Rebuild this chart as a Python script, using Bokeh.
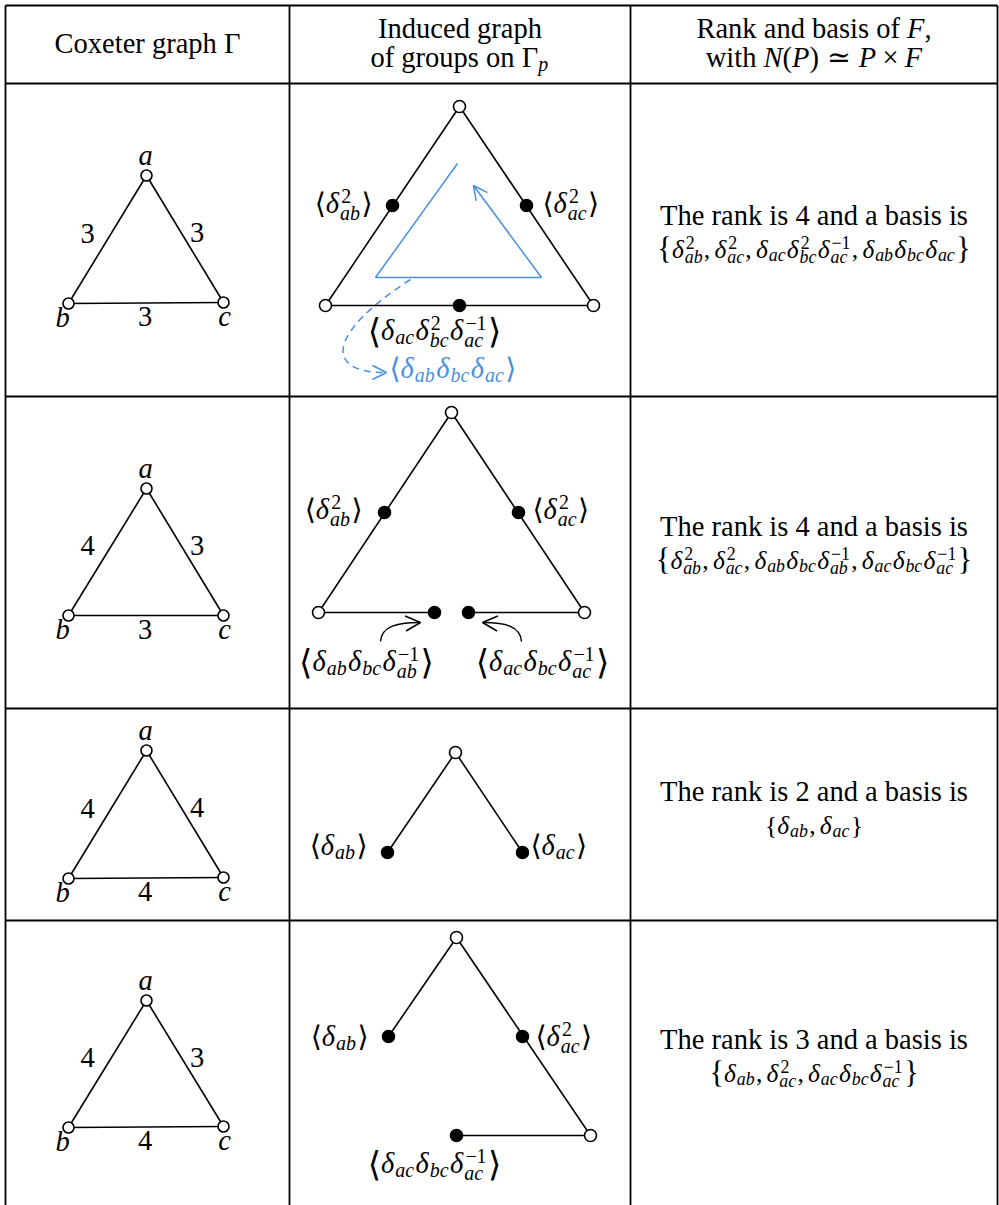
from bokeh.plotting import figure
from bokeh.models import ColumnDataSource, Range1d, Arrow, OpenHead
from bokeh.embed import file_html
from bokeh.resources import INLINE

# ---------------------------------------------------------------- data
# table grid (reference pixel coordinates)
col_x = [5, 289, 630, 997]
row_y = [5, 83, 396, 708, 920]
table_bottom = 1215

header_1 = "Coxeter graph Γ"
header_2 = ["Induced graph", "of groups on $Γ_p$"]
header_3 = ["Rank and basis of $F$,", "with $N(P) ≃ P × F$"]
header_1_y = 50
header_lines_y = [35, 64]

ranks = [4, 4, 2, 3]
bases = [
    r"$!\{δ_{ab}^2, δ_{ac}^2, δ_{ac}δ_{bc}^2δ_{ac}^{−1}, δ_{ab}δ_{bc}δ_{ac}!\}$",
    r"$!\{δ_{ab}^2, δ_{ac}^2, δ_{ab}δ_{bc}δ_{ab}^{−1}, δ_{ac}δ_{bc}δ_{ac}^{−1}!\}$",
    r"$\{δ_{ab}, δ_{ac}\}$",
    r"$!\{δ_{ab}, δ_{ac}^2, δ_{ac}δ_{bc}δ_{ac}^{−1}!\}$",
]
rank_line_y = [222, 533, 798, 1046]
basis_line_y = [255, 566, 831, 1079]

# Coxeter graphs Γ (vertices a, b, c) and edge labels
cox_a_x = [146, 146, 146, 146]
cox_a_y = [175, 488, 750, 1000]
cox_b_x = [68, 68, 68, 68]
cox_b_y = [303, 615, 878, 1127]
cox_c_x = [223, 223, 223, 223]
cox_c_y = [302, 615, 877, 1126]
m_ab = ["3", "4", "4", "4"]
m_ac = ["3", "3", "4", "3"]
m_bc = ["3", "3", "4", "4"]

# induced graphs of groups
g1_x = [459, 325, 593, 392, 526, 459]
g1_y = [106, 305, 305, 205, 205, 305]
g1_filled = [0, 0, 0, 1, 1, 1]
g1_edges = [(0, 1), (0, 2), (1, 2)]

g2_x = [451, 318, 584, 384, 518, 434, 468]
g2_y = [412, 612, 612, 512, 512, 612, 612]
g2_filled = [0, 0, 0, 1, 1, 1, 1]
g2_edges = [(0, 1), (0, 2), (1, 5), (6, 2)]

g3_x = [455, 387, 522]
g3_y = [752, 852, 852]
g3_filled = [0, 1, 1]
g3_edges = [(0, 1), (0, 2)]

g4_x = [456, 388, 522, 590, 456]
g4_y = [937, 1036, 1036, 1135, 1135]
g4_filled = [0, 1, 1, 0, 1]
g4_edges = [(0, 1), (0, 3), (3, 4)]

graph_labels = [
    # markup, x, baseline, align, colour
    (r"$⟨δ_{ab}^2⟩$", 372, 210, "right", "black"),
    (r"$⟨δ_{ac}^2⟩$", 542, 210, "left", "black"),
    (r"$!⟨δ_{ac}δ_{bc}^2δ_{ac}^{−1}!⟩$", 434, 337, "center", "black"),
    (r"$⟨δ_{ab}δ_{bc}δ_{ac}⟩$", 389, 375, "left", "blue"),
    (r"$⟨δ_{ab}^2⟩$", 362, 516, "right", "black"),
    (r"$⟨δ_{ac}^2⟩$", 532, 516, "left", "black"),
    (r"$!⟨δ_{ab}δ_{bc}δ_{ab}^{−1}!⟩$", 366, 668, "center", "black"),
    (r"$!⟨δ_{ac}δ_{bc}δ_{ac}^{−1}!⟩$", 542, 668, "center", "black"),
    (r"$⟨δ_{ab}⟩$", 367, 852, "right", "black"),
    (r"$⟨δ_{ac}⟩$", 530, 852, "left", "black"),
    (r"$⟨δ_{ab}⟩$", 368, 1043, "right", "black"),
    (r"$⟨δ_{ac}^2⟩$", 535, 1043, "left", "black"),
    (r"$!⟨δ_{ac}δ_{bc}δ_{ac}^{−1}!⟩$", 434, 1170, "center", "black"),
]

# blue cycle (row 1) and its dashed pointer
cycle_x = [457, 375, 541, 473]
cycle_y = [163, 277, 277, 185]
dash_curve = dict(x0=[410], y0=[279], cx0=[325], cy0=[334], cx1=[325], cy1=[372], x1=[384], y1=[372])
# curved arrows (row 2)
curl_left = dict(x0=[380], y0=[641], cx0=[381], cy0=[626], cx1=[396], cy1=[622], x1=[419], y1=[622])
curl_right = dict(x0=[521], y0=[641], cx0=[520], cy0=[626], cx1=[505], cy1=[622], x1=[483], y1=[622])

# ---------------------------------------------------------------- style
W, H = 999, 1205
XR = (0, 999)
YR = (1205, 0)
SY = H / abs(YR[0] - YR[1])
FS = 28.5
FS_BASIS = 25.5
TEXT_FIX = -0.25          # baseline correction, fraction of font size
INK = "black"
BLUE = "#4a90e2"
COLORS = {"black": INK, "blue": BLUE}
FONTS = {"serif": "Liberation Serif", "brk": "DejaVu Sans", "sym": "DejaVu Serif"}
BIG = 1.2
THIN, MED, THICK = 0.167, 0.222, 0.278

W_RM = {' ': .25, ',': .25, '.': .25, '(': .333, ')': .333, '{': .48, '}': .48,
        '−': .564, '×': .564, 'Γ': .578,
        'C': .667, 'I': .333, 'R': .667, 'T': .611, 'F': .556, 'N': .722, 'P': .556,
        'a': .444, 'b': .5, 'c': .444, 'd': .5, 'e': .444, 'f': .333, 'g': .5, 'h': .5,
        'i': .278, 'k': .5, 'n': .5, 'o': .5, 'p': .5, 'r': .333, 's': .389, 't': .278,
        'u': .5, 'w': .722, 'x': .5}
for _d in "0123456789":
    W_RM[_d] = .5
W_IT = {'a': .5, 'b': .5, 'c': .444, 'p': .5, 'F': .611, 'N': .667, 'P': .611, 'δ': .5, ' ': .25}
W_SP = {'⟨': .39, '⟩': .39, '≃': .838}


def cw(ch, font, style):
    if font != "serif":
        return W_SP.get(ch, .5)
    return (W_IT if style == "italic" else W_RM).get(ch, .5)


def math_kind(ch):
    if ch in "⟨⟩":
        return "brk", "normal"
    if ch == "≃":
        return "sym", "normal"
    if ch.isalpha() and ch not in "ΓΔ":
        return "serif", "italic"
    return "serif", "normal"


def parse(s):
    items = []
    math = False
    i, n = 0, len(s)

    def group(j):
        if s[j] == "{":
            k = s.index("}", j)
            return s[j + 1:k], k + 1
        return s[j], j + 1

    while i < n:
        ch = s[i]
        if ch == "$":
            math = not math
            i += 1
            continue
        if not math:
            items.append(("c", ch, "serif", "normal", 1.0))
            i += 1
            continue
        if ch == " ":
            i += 1
            continue
        scale = 1.0
        if ch == "!":
            scale = BIG
            i += 1
            ch = s[i]
        if ch == "\\":
            i += 1
            items.append(("c", s[i], "serif", "normal", scale))
            i += 1
            continue
        if ch in "_^":
            sub = sup = None
            while i < n and s[i] in "_^":
                kind = s[i]
                grp, i = group(i + 1)
                if kind == "_":
                    sub = grp
                else:
                    sup = grp
            items.append(("s", sub, sup))
            continue
        font, style = math_kind(ch)
        if ch == ",":
            items += [("c", ch, font, style, 1.0), ("sp", THIN)]
        elif ch == "≃":
            items += [("sp", THICK), ("c", ch, font, style, 1.0), ("sp", THICK)]
        elif ch == "×":
            items += [("sp", MED), ("c", ch, font, style, 1.0), ("sp", MED)]
        else:
            items.append(("c", ch, font, style, scale))
        i += 1
    return items


def layout(markup, fs):
    pieces = []
    x = 0.0
    for it in parse(markup):
        if it[0] == "sp":
            x += it[1] * fs
        elif it[0] == "c":
            _, ch, font, style, scale = it
            dy = (scale - 1) * 0.3 * fs
            w = cw(ch, font, style) * fs * scale
            pieces.append([x, dy, ch, font, style, fs * scale, w])
            x += w
        else:
            _, sub, sup = it
            ss = 0.7 * fs
            wsub = wsup = 0.0
            if sup:
                xx = x + 0.04 * fs
                for ch in sup:
                    f, st = math_kind(ch)
                    w = cw(ch, f, st) * ss
                    pieces.append([xx, -0.33 * fs, ch, f, st, ss, w])
                    xx += w
                wsup = xx - x
            if sub:
                xx = x
                dy = (0.25 if sup else 0.15) * fs
                for ch in sub:
                    f, st = math_kind(ch)
                    w = cw(ch, f, st) * ss
                    pieces.append([xx, dy, ch, f, st, ss, w])
                    xx += w
                wsub = xx - x
            x += max(wsub, wsup) + 0.05 * fs
    merged = []
    for pc in pieces:
        if merged:
            m = merged[-1]
            if (m[1] == pc[1] and m[3] == pc[3] and m[4] == pc[4] and m[5] == pc[5]
                    and abs(m[0] + m[6] - pc[0]) < 1e-6):
                m[2] += pc[2]
                m[6] += pc[6]
                continue
        merged.append(list(pc))
    return merged, x


TXT = {a: dict(x=[], y=[], text=[], font=[], style=[], size=[], color=[])
       for a in ("left", "center", "right")}


def push(store, x, y, t, f, st, sz, color):
    store["x"].append(x)
    store["y"].append(y + TEXT_FIX * sz)
    store["text"].append(t)
    store["font"].append(FONTS[f])
    store["style"].append(st)
    store["size"].append(f"{sz * SY:.2f}px")
    store["color"].append(color)


def add_label(markup, x, y, align="center", color=INK, fs=FS):
    pieces, width = layout(markup, fs)
    if len(pieces) == 1 and pieces[0][1] == 0:
        px, dy, t, f, st, sz, w = pieces[0]
        push(TXT[align], x, y, t, f, st, sz, color)
        return
    if align == "left":
        x0 = x
    elif align == "center":
        x0 = x - width / 2
    else:
        x0 = x - width
    for px, dy, t, f, st, sz, w in pieces:
        push(TXT["left"], x0 + px, y + dy, t, f, st, sz, color)


# ---------------------------------------------------------------- figure
p = figure(width=W, height=H, x_range=Range1d(*XR), y_range=Range1d(*YR),
           output_backend="svg", toolbar_location=None, min_border=0,
           x_axis_location=None, y_axis_location=None,
           background_fill_color="white", border_fill_color="white")
p.grid.visible = False
p.outline_line_color = None

# table rules
vx0 = col_x
vy0 = [row_y[0]] * len(col_x)
vy1 = [table_bottom] * len(col_x)
p.segment(x0=vx0, y0=vy0, x1=vx0, y1=vy1, line_color=INK, line_width=1.8)
p.segment(x0=[col_x[0]] * len(row_y), y0=row_y, x1=[col_x[-1]] * len(row_y), y1=row_y,
          line_color=INK, line_width=1.8)

# headers
c1 = (col_x[0] + col_x[1]) / 2
c2 = (col_x[1] + col_x[2]) / 2
c3 = (col_x[2] + col_x[3]) / 2
add_label(header_1, c1, header_1_y)
add_label(header_2[0], c2, header_lines_y[0])
add_label(header_2[1], c2, header_lines_y[1])
add_label(header_3[0], c3, header_lines_y[0])
add_label(header_3[1], c3, header_lines_y[1])

# rank / basis column
for r in range(4):
    add_label(f"The rank is {ranks[r]} and a basis is", c3, rank_line_y[r])
    add_label(bases[r], c3, basis_line_y[r], fs=FS_BASIS)

# Coxeter graphs
ex0, ey0, ex1, ey1 = [], [], [], []
nx, ny = [], []
for r in range(4):
    A = (cox_a_x[r], cox_a_y[r])
    B = (cox_b_x[r], cox_b_y[r])
    C = (cox_c_x[r], cox_c_y[r])
    for P, Q in ((A, B), (A, C), (B, C)):
        ex0.append(P[0]); ey0.append(P[1]); ex1.append(Q[0]); ey1.append(Q[1])
    nx += [A[0], B[0], C[0]]
    ny += [A[1], B[1], C[1]]
    add_label("$a$", A[0] - 1, A[1] - 13)
    add_label("$b$", B[0] - 6, B[1] + 21)
    add_label("$c$", C[0] + 1, C[1] + 21)
    add_label(m_ab[r], (A[0] + B[0]) / 2 - 20, (A[1] + B[1]) / 2 + 1)
    add_label(m_ac[r], (A[0] + C[0]) / 2 + 12, (A[1] + C[1]) / 2 + 1)
    add_label(m_bc[r], (B[0] + C[0]) / 2 - 1, (B[1] + C[1]) / 2 + 21)
p.segment(x0=ex0, y0=ey0, x1=ex1, y1=ey1, line_color=INK, line_width=1.6)
p.scatter(nx, ny, size=11, marker="circle", fill_color="white", line_color=INK, line_width=1.6)

# induced graphs
gx, gy, gf = [], [], []
sx0, sy0, sx1, sy1 = [], [], [], []
for xs, ys, fl, ed in ((g1_x, g1_y, g1_filled, g1_edges), (g2_x, g2_y, g2_filled, g2_edges),
                       (g3_x, g3_y, g3_filled, g3_edges), (g4_x, g4_y, g4_filled, g4_edges)):
    for i, j in ed:
        sx0.append(xs[i]); sy0.append(ys[i]); sx1.append(xs[j]); sy1.append(ys[j])
    gx += xs
    gy += ys
    gf += [INK if f else "white" for f in fl]

# blue cycle
p.line(cycle_x[:3], cycle_y[:3], line_color=BLUE, line_width=1.5)
p.add_layout(Arrow(x_start=cycle_x[2], y_start=cycle_y[2], x_end=cycle_x[3], y_end=cycle_y[3],
                   line_color=BLUE, line_width=1.5,
                   end=OpenHead(size=14, line_color=BLUE, line_width=1.5)))
p.bezier(source=ColumnDataSource(dash_curve), x0="x0", y0="y0", x1="x1", y1="y1",
         cx0="cx0", cy0="cy0", cx1="cx1", cy1="cy1",
         line_color=BLUE, line_width=1.5, line_dash="7 5")
p.add_layout(Arrow(x_start=dash_curve["x1"][0] - 8, y_start=dash_curve["y1"][0],
                   x_end=dash_curve["x1"][0] + 2, y_end=dash_curve["y1"][0],
                   line_alpha=0, end=OpenHead(size=14, line_color=BLUE, line_width=1.5)))

p.segment(x0=sx0, y0=sy0, x1=sx1, y1=sy1, line_color=INK, line_width=1.6)
p.scatter(gx, gy, size=12, marker="circle", fill_color=gf, line_color=INK, line_width=1.6)

# curved arrows (row 2)
for cv, dx in ((curl_left, -14), (curl_right, 14)):
    p.bezier(source=ColumnDataSource(cv), x0="x0", y0="y0", x1="x1", y1="y1",
             cx0="cx0", cy0="cy0", cx1="cx1", cy1="cy1", line_color=INK, line_width=1.5)
    p.add_layout(Arrow(x_start=cv["x1"][0] + dx, y_start=cv["y1"][0] + 1,
                       x_end=cv["x1"][0] + (1 if dx < 0 else -1), y_end=cv["y1"][0],
                       line_alpha=0, end=OpenHead(size=15, line_color=INK, line_width=1.5)))

# graph labels
for mk, x, y, al, col in graph_labels:
    add_label(mk, x, y, al, COLORS[col])

for al, data in TXT.items():
    if data["x"]:
        p.text(x="x", y="y", text="text", source=ColumnDataSource(data),
               text_font="font", text_font_style="style", text_font_size="size",
               text_color="color", text_align=al, text_baseline="alphabetic")

open("out.html", "w").write(file_html(p, INLINE))
